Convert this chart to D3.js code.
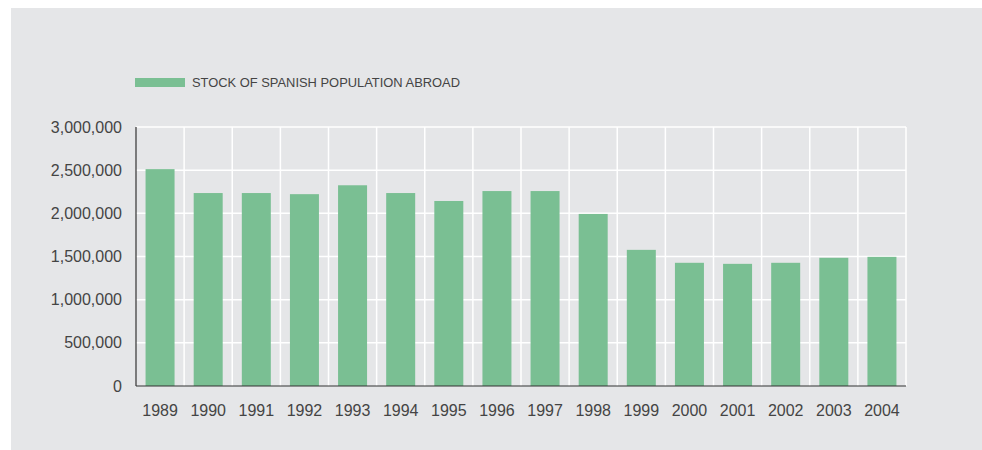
<!DOCTYPE html>
<html lang="en">
<head>
    <meta charset="UTF-8">
    <title>Stock of Spanish population abroad</title>
    <style>
        body { margin: 0; background: #fff; }
        svg { display: block; }
    </style>
</head>
<body>
    <div id="chart"></div>

    <script src="https://d3js.org/d3.v7.min.js"></script>
    <script>
        // Data
        var years = ["1989", "1990", "1991", "1992", "1993", "1994", "1995", "1996",
                     "1997", "1998", "1999", "2000", "2001", "2002", "2003", "2004"];
        var stock = [2512000, 2235000, 2235000, 2222000, 2325000, 2235000, 2143000, 2258000,
                     2258000, 1993000, 1577000, 1427000, 1415000, 1427000, 1485000, 1496000];
        var yTicks = [0, 500000, 1000000, 1500000, 2000000, 2500000, 3000000];
        var seriesName = "STOCK OF SPANISH POPULATION ABROAD";

        var width = 982, height = 450;
        var margin = { top: 127, right: 76, bottom: 64, left: 136 };
        var plotW = width - margin.left - margin.right;
        var plotH = height - margin.top - margin.bottom;

        var svg = d3.select("#chart").append("svg")
            .attr("width", width)
            .attr("height", height)
            .style("font-family", "'Liberation Sans', Arial, sans-serif");

        // grey panel
        svg.append("rect")
            .attr("x", 11).attr("y", 8)
            .attr("width", width - 11).attr("height", height - 8)
            .attr("fill", "#e5e6e8");

        var g = svg.append("g").attr("transform", "translate(" + margin.left + "," + margin.top + ")");

        var x = d3.scaleBand().domain(years).range([0, plotW]).paddingInner(0.4).paddingOuter(0.2);
        var y = d3.scaleLinear().domain([0, 3000000]).range([plotH, 0]);

        var step = x.step();

        // vertical white grid lines at band boundaries
        g.append("g").selectAll("line")
            .data(d3.range(1, years.length + 1))
            .enter().append("line")
            .attr("x1", function(i) { return i * plotW / years.length; })
            .attr("x2", function(i) { return i * plotW / years.length; })
            .attr("y1", 0).attr("y2", plotH)
            .attr("stroke", "#fff").attr("stroke-width", 1.5);

        // horizontal white grid lines
        g.append("g").selectAll("line")
            .data(yTicks.slice(1))
            .enter().append("line")
            .attr("x1", 0).attr("x2", plotW)
            .attr("y1", function(d) { return y(d); })
            .attr("y2", function(d) { return y(d); })
            .attr("stroke", "#fff").attr("stroke-width", 1.5);

        // bars
        var xb = d3.scaleBand().domain(years).range([0, plotW]).padding(0);
        var barW = 29;
        g.append("g").selectAll("rect")
            .data(years)
            .enter().append("rect")
            .attr("x", function(d) { return xb(d) + (xb.bandwidth() - barW) / 2; })
            .attr("y", function(d, i) { return y(stock[i]); })
            .attr("width", barW)
            .attr("height", function(d, i) { return plotH - y(stock[i]); })
            .attr("fill", "#7abf93");

        // axes lines
        g.append("line")
            .attr("x1", 0).attr("x2", 0).attr("y1", 0).attr("y2", plotH)
            .attr("stroke", "#333").attr("stroke-width", 1.2);
        g.append("line")
            .attr("x1", 0).attr("x2", plotW).attr("y1", plotH).attr("y2", plotH)
            .attr("stroke", "#333").attr("stroke-width", 1.2);

        // y tick labels
        var fmt = d3.format(",");
        g.append("g").selectAll("text")
            .data(yTicks)
            .enter().append("text")
            .attr("x", -14)
            .attr("y", function(d) { return y(d); })
            .attr("dy", "0.35em")
            .attr("text-anchor", "end")
            .attr("font-size", "16px")
            .attr("fill", "#444")
            .text(function(d) { return fmt(d); });

        // x tick labels
        g.append("g").selectAll("text")
            .data(years)
            .enter().append("text")
            .attr("x", function(d) { return xb(d) + xb.bandwidth() / 2; })
            .attr("y", plotH + 30)
            .attr("text-anchor", "middle")
            .attr("font-size", "16px")
            .attr("fill", "#444")
            .text(function(d) { return d; });

        // legend
        var legend = svg.append("g").attr("transform", "translate(135,78)");
        legend.append("rect")
            .attr("width", 50).attr("height", 9)
            .attr("fill", "#7abf93");
        legend.append("text")
            .attr("x", 57).attr("y", 4.5)
            .attr("dy", "0.35em")
            .attr("font-size", "12px")
            .attr("fill", "#444")
            .attr("textLength", 268)
            .attr("lengthAdjust", "spacingAndGlyphs")
            .text(seriesName);
    </script>
</body>
</html>
